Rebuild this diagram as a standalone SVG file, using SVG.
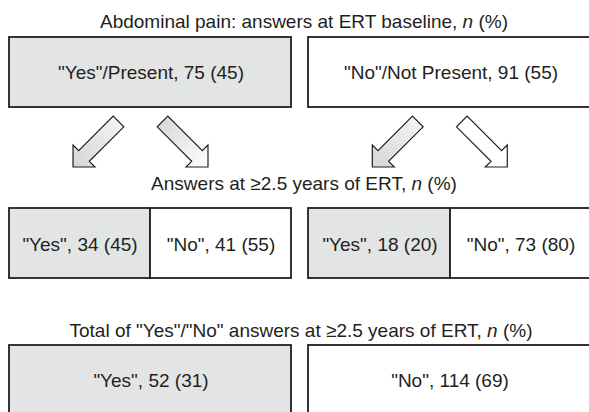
<svg xmlns="http://www.w3.org/2000/svg" width="589" height="412" viewBox="0 0 589 412">
<style>
text{font-family:"Liberation Sans",Arial,sans-serif;font-size:19px;fill:#231f20;text-anchor:middle}
.box{stroke:#231f20;stroke-width:1.8}
.yes{fill:#e3e4e4}
.no{fill:#ffffff}
.arr{stroke:#231f20;stroke-width:1.2;stroke-linejoin:miter}
</style>
<defs>
<linearGradient id="gHead" x1="0" y1="1" x2="1" y2="0">
<stop offset="0" stop-color="#d6d6d6"/><stop offset="1" stop-color="#f6f6f6"/>
</linearGradient>
<linearGradient id="gTail" x1="0" y1="1" x2="1" y2="0">
<stop offset="0" stop-color="#ffffff"/><stop offset="1" stop-color="#d4d4d4"/>
</linearGradient>
<path id="arrow" d="M0,0 L0,-22 L5.7,-16.3 L40.2,-50.8 L50.8,-40.2 L16.3,-5.7 L22,0 Z"/>
</defs>
<rect width="589" height="412" fill="#ffffff"/>
<g id="titles">
<text x="304" y="28">Abdominal pain: answers at ERT baseline, <tspan font-style="italic">n</tspan> (%)</text>
<text x="304" y="190">Answers at ≥2.5 years of ERT, <tspan font-style="italic">n</tspan> (%)</text>
<text x="301" y="337">Total of "Yes"/"No" answers at ≥2.5 years of ERT, <tspan font-style="italic">n</tspan> (%)</text>
</g>
<g id="baseline-yes">
<rect class="box yes" x="9" y="37" width="282" height="70"/>
<text x="151" y="79">"Yes"/Present, 75 (45)</text>
</g>
<g id="baseline-no">
<rect class="box no" x="308" y="37" width="286" height="70"/>
<text x="451" y="79">"No"/Not Present, 91 (55)</text>
</g>
<g id="followup-yes-yes">
<rect class="box yes" x="9" y="208" width="141" height="70"/>
<text x="80" y="251">"Yes", 34 (45)</text>
</g>
<g id="followup-yes-no">
<rect class="box no" x="150" y="208" width="141" height="70"/>
<text x="221" y="251">"No", 41 (55)</text>
</g>
<g id="followup-no-yes">
<rect class="box yes" x="308" y="208" width="142" height="70"/>
<text x="380" y="251">"Yes", 18 (20)</text>
</g>
<g id="followup-no-no">
<rect class="box no" x="450" y="208" width="144" height="70"/>
<text x="521" y="251">"No", 73 (80)</text>
</g>
<g id="total-yes">
<rect class="box yes" x="9" y="345" width="282" height="80"/>
<text x="151" y="387">"Yes", 52 (31)</text>
</g>
<g id="total-no">
<rect class="box no" x="308" y="345" width="286" height="80"/>
<text x="450" y="387">"No", 114 (69)</text>
</g>
<g id="connectors">
<use href="#arrow" class="arr" fill="url(#gHead)" transform="translate(73,167)"/>
<use href="#arrow" class="arr" fill="url(#gTail)" transform="translate(208,167) scale(-1,1)"/>
<use href="#arrow" class="arr" fill="url(#gHead)" transform="translate(372.3,167)"/>
<use href="#arrow" class="arr" fill="#ffffff" transform="translate(507.3,167) scale(-1,1)"/>
</g>
</svg>
